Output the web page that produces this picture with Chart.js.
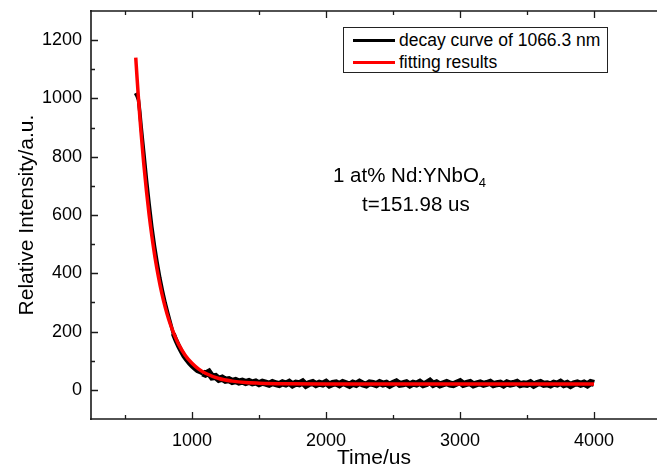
<!DOCTYPE html>
<html>
<head>
<meta charset="utf-8">
<script src="https://cdn.jsdelivr.net/npm/chart.js@4.4.1/dist/chart.umd.min.js"></script>
<style>
  html, body { margin: 0; padding: 0; background: #fff; overflow: hidden; }
  #wrap { position: relative; width: 657px; height: 471px; font-family: "Liberation Sans", Arial, sans-serif; color: #000; }
  #legend { position: absolute; left: 343px; top: 27px; width: 263px; height: 44px; border: 1px solid #222; background: #fff; }
  .lg-line { position: absolute; left: 9px; width: 42px; height: 3px; }
  .lg-text { position: absolute; left: 55px; font-size: 17.5px; line-height: 20px; white-space: nowrap; }
  .note { position: absolute; font-size: 20.5px; line-height: 20px; white-space: nowrap; }
  .note sub { font-size: 13px; vertical-align: -5px; line-height: 0; }
</style>
</head>
<body>
<div id="wrap">
  <canvas id="c" width="657" height="471"></canvas>
  <div id="legend">
    <div class="lg-line" style="top:11px;background:#000"></div>
    <div class="lg-text" style="top:2px">decay curve of 1066.3 nm</div>
    <div class="lg-line" style="top:33px;background:#ff0000"></div>
    <div class="lg-text" style="top:24px">fitting results</div>
  </div>
  <div class="note" style="left:333px;top:165px">1 at% Nd:YNbO<sub>4</sub></div>
  <div class="note" style="left:362px;top:194px">t=151.98 us</div>
</div>
<script>
// ---- data ----
const decayTime = [578, 590, 600, 610, 620, 640, 660, 680, 700, 720, 740, 760, 780, 800, 820, 840, 860, 880, 900, 920, 940, 960, 980, 1000, 1020, 1040, 1060, 1080];
const decayIntensity = [1018, 1008, 995, 955, 905, 815, 722, 638, 560, 494, 436, 384, 339, 298, 262, 228, 193, 170, 150, 132, 116, 103, 92, 82, 74, 66, 62, 58];

const tailStart = 1100;   // us
const tailStep = 25;      // us
const tailIntensity = [
  54, 60, 44, 46, 36, 40, 33, 35,
  29, 32, 27, 30, 25, 29, 24, 27,
  21, 26, 23, 19, 25, 21, 18, 24,
  20, 26, 17, 23, 21, 27, 16, 22,
  25, 18, 23, 20, 26, 17, 22, 24,
  18, 25, 21, 16, 23, 19, 26, 20,
  17, 24, 22, 18, 25, 20, 23, 16,
  22, 27, 19, 21, 24, 17, 23, 20,
  26, 18, 22, 29, 19, 24, 17, 21,
  25, 20, 18, 23, 28, 19, 22, 25,
  17, 21, 24, 19, 22, 26, 18, 21,
  23, 17, 24, 20, 22, 26, 18, 21,
  19, 24, 16, 22, 25, 19, 21, 17,
  23, 20, 26, 18, 22, 15, 21, 24,
  19, 23, 17, 25, 22
];

const fitTime = [580, 590, 600, 610, 620, 640, 660, 680, 700, 725, 750, 775, 800, 825, 850, 875, 900, 950, 1000, 1050, 1100, 1200, 1300, 1400, 1500, 1700, 2000, 2500, 3000, 3500, 4000];
const fitIntensity = [1140, 1069, 1002, 939, 881, 775, 682, 600, 529, 451, 386, 330, 283, 243, 210, 181, 156, 118, 91, 71, 57, 39, 30, 25, 23, 21, 20, 20, 20, 20, 20];

const xTickValues = [500, 1000, 1500, 2000, 2500, 3000, 3500, 4000];
const yTickValues = [0, 100, 200, 300, 400, 500, 600, 700, 800, 900, 1000, 1100, 1200];

// ---- build datasets ----
const decayPoints = decayTime.map((t, i) => ({ x: t, y: decayIntensity[i] }));
tailIntensity.forEach((v, i) => decayPoints.push({ x: tailStart + i * tailStep, y: v }));
const fitPoints = fitTime.map((t, i) => ({ x: t, y: fitIntensity[i] }));

Chart.defaults.font.family = '"Liberation Sans", Arial, sans-serif';
Chart.defaults.color = '#000';

const framePlugin = {
  id: 'frame',
  afterDatasetsDraw(chart) {
    const { ctx, chartArea: { left, right, top, bottom }, scales: { x, y } } = chart;
    ctx.save();
    ctx.strokeStyle = '#1a1a1a';
    ctx.lineWidth = 1.6;
    ctx.beginPath();
    ctx.moveTo(left, top - 1); ctx.lineTo(left, bottom + 1);
    ctx.moveTo(left - 1, bottom); ctx.lineTo(right + 2, bottom);
    ctx.moveTo(left - 1, top); ctx.lineTo(right + 2, top);
    ctx.stroke();
    ctx.lineWidth = 1.3;
    ctx.beginPath();
    x.ticks.forEach(t => {
      const px = Math.round(x.getPixelForValue(t.value)) + 0.5;
      const len = t.value % 1000 === 0 ? 7 : 4;
      ctx.moveTo(px, bottom); ctx.lineTo(px, bottom - len);
      ctx.moveTo(px, top); ctx.lineTo(px, top + len);
    });
    y.ticks.forEach(t => {
      const py = Math.round(y.getPixelForValue(t.value)) + 0.5;
      const len = t.value % 200 === 0 ? 7 : 4;
      ctx.moveTo(left, py); ctx.lineTo(left + len, py);
    });
    ctx.stroke();
    ctx.restore();
  }
};

const zeroPad = s => { s.paddingLeft = 0; s.paddingRight = 0; s.paddingTop = 0; s.paddingBottom = 0; };

new Chart(document.getElementById('c'), {
  type: 'line',
  data: {
    datasets: [
      {
        label: 'decay curve of 1066.3 nm',
        data: decayPoints,
        borderColor: '#000',
        borderWidth: 7,
        pointRadius: 0,
        tension: 0,
        order: 1,
        segment: {
          borderWidth: ctx => ctx.p0.parsed.x < 860 ? 3.5 : (ctx.p0.parsed.x < 1080 ? 5 : 7)
        }
      },
      {
        label: 'fitting results',
        data: fitPoints,
        borderColor: '#ff0000',
        borderWidth: 3.5,
        pointRadius: 0,
        cubicInterpolationMode: 'monotone',
        order: 0
      }
    ]
  },
  options: {
    responsive: false,
    animation: false,
    devicePixelRatio: 1,
    layout: { padding: { top: 11, right: 0, bottom: 0, left: 0 } },
    plugins: { legend: { display: false }, tooltip: { enabled: false } },
    scales: {
      x: {
        type: 'linear',
        min: 246,
        max: 4470,
        afterBuildTicks: s => { s.ticks = xTickValues.map(v => ({ value: v })); },
        afterFit: s => { s.height = 52; zeroPad(s); },
        grid: { display: false, drawTicks: false },
        border: { display: false },
        ticks: {
          autoSkip: false,
          maxRotation: 0,
          padding: 11,
          font: { size: 18 },
          color: '#000',
          callback: v => (v % 1000 === 0 ? String(v) : '')
        },
        title: { display: true, text: 'Time/us', font: { size: 21 }, color: '#000', padding: { top: 0, bottom: 0 } }
      },
      y: {
        type: 'linear',
        min: -100,
        max: 1300,
        afterBuildTicks: s => { s.ticks = yTickValues.map(v => ({ value: v })); },
        afterFit: s => { s.width = 91; zeroPad(s); },
        grid: { display: false, drawTicks: false },
        border: { display: false },
        ticks: {
          autoSkip: false,
          padding: 9,
          font: { size: 18 },
          color: '#000',
          callback: v => (v % 200 === 0 ? String(v) : '')
        },
        title: { display: true, text: 'Relative Intensity/a.u.', font: { size: 21 }, color: '#000', padding: { top: 15, bottom: 0 } }
      }
    }
  },
  plugins: [framePlugin]
});
</script>
</body>
</html>
